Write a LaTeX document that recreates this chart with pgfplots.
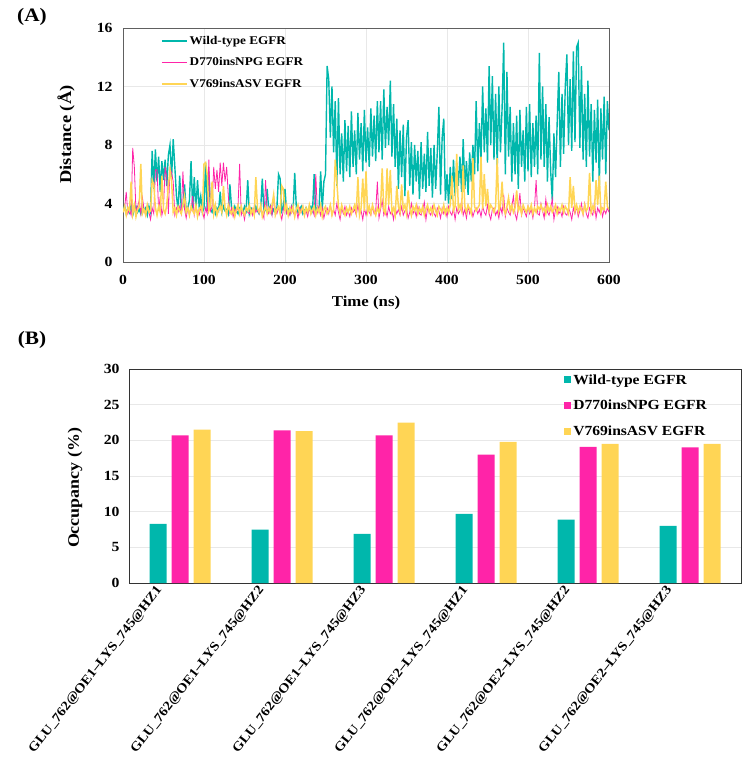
\documentclass[border=0pt]{standalone}
\usepackage{fontspec}
\setmainfont{Liberation Serif}[FakeStretch=1.12]
\usepackage{pgfplots}
\usepackage{pgfplotstable}
\pgfplotsset{compat=1.18}
\definecolor{cteal}{RGB}{0,183,172}
\definecolor{cpink}{RGB}{255,36,168}
\definecolor{cyel}{RGB}{255,213,85}
\newcommand{\fs}[1]{\fontsize{#1}{#1}\selectfont\bfseries}

% distance series, one value every 2 ns from 0 to 600 ns
\pgfplotstableread[row sep=\\]{y\\
3.5\\3.8\\3.3\\3.7\\3.4\\3.9\\3.2\\3.6\\3.8\\3.4\\
3.6\\3.3\\3.9\\3.5\\3.7\\3.2\\3.8\\3.4\\7.6\\5.0\\
7.7\\5.5\\7.2\\4.8\\6.9\\5.6\\7.0\\5.2\\7.3\\8.0\\
5.8\\8.4\\6.5\\4.5\\3.6\\5.9\\3.5\\3.8\\5.3\\3.4\\
3.7\\4.2\\6.9\\3.6\\5.8\\3.5\\5.6\\3.8\\4.5\\3.4\\
3.7\\6.8\\3.5\\6.2\\3.6\\3.4\\3.8\\3.3\\3.7\\3.5\\
4.8\\3.4\\3.8\\3.5\\3.6\\3.3\\5.3\\3.7\\3.4\\3.8\\
3.5\\3.3\\3.7\\3.6\\3.4\\3.8\\3.5\\5.6\\3.3\\3.7\\
3.6\\3.4\\3.8\\3.5\\3.3\\3.7\\5.7\\3.4\\3.6\\5.0\\
3.5\\3.8\\3.3\\3.6\\3.4\\3.7\\6.0\\5.7\\3.5\\3.8\\
5.0\\3.4\\3.6\\3.3\\3.8\\3.5\\6.1\\3.7\\3.4\\3.6\\
3.8\\3.3\\3.5\\3.7\\3.4\\3.6\\3.8\\3.5\\6.0\\3.4\\
3.7\\3.5\\6.2\\3.6\\5.5\\6.0\\13.4\\12.5\\8.5\\12.0\\
7.5\\11.0\\5.2\\11.2\\6.0\\8.8\\5.5\\9.7\\6.2\\9.3\\
5.8\\10.3\\6.5\\9.0\\6.0\\10.2\\7.0\\9.5\\6.2\\10.4\\
6.8\\9.2\\6.5\\10.5\\7.2\\10.0\\6.9\\11.0\\7.5\\11.0\\
7.0\\11.8\\7.8\\10.6\\8.0\\12.4\\7.2\\10.8\\6.5\\9.8\\
5.0\\9.0\\5.8\\9.4\\4.5\\8.5\\9.7\\5.2\\8.2\\4.6\\
8.0\\5.5\\7.6\\4.3\\8.2\\5.0\\7.4\\4.8\\8.9\\5.2\\
7.8\\4.4\\8.0\\5.0\\7.5\\10.6\\4.6\\8.5\\9.8\\4.2\\
6.0\\4.0\\6.5\\4.3\\7.0\\4.5\\6.8\\5.2\\7.2\\4.8\\
8.4\\5.0\\6.9\\4.6\\7.5\\5.5\\8.0\\6.0\\11.0\\6.2\\
9.5\\7.0\\12.0\\7.5\\10.5\\6.8\\13.4\\8.0\\12.7\\7.0\\
11.5\\6.5\\12.0\\7.5\\10.5\\15.0\\6.0\\13.0\\7.2\\10.6\\
5.5\\9.5\\6.0\\10.0\\5.0\\10.4\\6.5\\9.0\\5.5\\10.6\\
6.2\\10.8\\5.8\\9.5\\6.5\\10.0\\6.0\\14.3\\7.0\\12.0\\
6.5\\10.8\\5.5\\9.9\\6.2\\4.2\\8.8\\5.8\\9.5\\13.0\\
6.5\\11.5\\7.4\\12.0\\14.2\\8.0\\12.5\\7.6\\14.4\\8.2\\
14.7\\15.0\\7.8\\13.4\\7.0\\11.5\\6.5\\12.4\\7.2\\10.8\\
5.5\\10.4\\6.8\\11.1\\5.2\\10.5\\7.0\\11.3\\6.0\\11.0\\
9.0\\}\wtdata

\pgfplotstableread[row sep=\\]{y\\
3.4\\3.7\\4.8\\3.3\\3.6\\3.2\\7.8\\6.5\\3.5\\3.8\\
4.2\\3.3\\4.4\\3.6\\3.2\\3.9\\3.4\\2.9\\3.7\\3.3\\
6.3\\6.3\\3.5\\4.5\\3.2\\3.7\\6.5\\5.8\\3.3\\6.4\\
6.1\\5.5\\3.2\\3.7\\3.4\\3.8\\3.3\\6.2\\3.6\\3.0\\
3.7\\3.3\\3.5\\4.5\\3.2\\3.8\\3.4\\3.2\\3.7\\3.5\\
3.0\\3.7\\3.3\\7.0\\3.5\\3.8\\6.5\\5.0\\6.3\\4.8\\
6.8\\5.2\\6.8\\5.5\\6.5\\4.5\\3.3\\3.7\\3.1\\3.6\\
3.4\\3.8\\6.7\\3.2\\3.5\\2.9\\3.7\\3.4\\3.3\\3.6\\
3.2\\3.8\\3.4\\3.6\\3.3\\3.7\\3.4\\3.0\\5.6\\3.5\\
3.3\\3.8\\3.2\\4.5\\3.6\\3.3\\3.7\\3.4\\2.9\\3.6\\
4.0\\3.3\\3.5\\3.2\\3.8\\3.4\\3.2\\3.6\\3.0\\3.7\\
3.4\\3.8\\3.2\\3.5\\3.1\\3.7\\3.3\\3.6\\3.2\\6.0\\
3.4\\3.8\\3.2\\3.7\\3.0\\3.5\\3.7\\3.3\\3.9\\3.2\\
3.6\\3.2\\4.0\\3.4\\2.9\\3.7\\3.3\\3.8\\3.2\\3.5\\
3.1\\3.7\\3.4\\3.6\\3.2\\3.9\\3.3\\3.5\\2.9\\3.7\\
3.2\\3.7\\3.4\\3.2\\3.8\\3.3\\3.5\\5.5\\3.0\\3.6\\
4.2\\3.2\\3.6\\3.1\\3.8\\3.3\\3.5\\2.9\\3.7\\3.3\\
3.6\\3.2\\3.8\\3.2\\3.5\\3.7\\3.0\\3.4\\4.0\\3.3\\
3.6\\3.1\\3.8\\3.3\\3.2\\3.6\\4.1\\2.9\\3.7\\3.4\\
3.2\\3.8\\3.3\\3.1\\3.7\\3.5\\3.0\\3.7\\3.3\\3.6\\
3.1\\3.8\\3.4\\3.2\\3.7\\2.9\\3.7\\3.3\\3.5\\4.2\\
3.2\\3.6\\3.0\\3.8\\3.3\\3.7\\3.1\\3.5\\3.7\\3.3\\
3.6\\3.1\\3.8\\3.4\\3.2\\3.9\\3.3\\2.9\\3.6\\3.7\\
3.2\\3.5\\3.0\\3.8\\3.3\\4.6\\3.1\\3.7\\3.4\\3.2\\
3.8\\4.5\\3.3\\2.9\\3.7\\4.7\\3.2\\3.7\\3.4\\3.1\\
3.8\\3.3\\3.6\\3.0\\3.7\\5.6\\3.3\\3.2\\4.0\\3.5\\
3.0\\4.3\\3.4\\3.2\\3.7\\4.3\\2.9\\3.6\\3.8\\3.3\\
3.5\\3.1\\3.8\\3.3\\3.2\\3.7\\3.4\\2.9\\3.7\\3.3\\
3.8\\3.1\\3.5\\4.0\\3.2\\4.0\\3.3\\3.0\\3.7\\3.4\\
3.2\\4.1\\3.0\\3.7\\3.4\\3.8\\3.1\\3.6\\3.3\\3.7\\
3.4\\}\npgdata

\pgfplotstableread[row sep=\\]{y\\
3.4\\3.8\\3.2\\3.7\\3.5\\5.5\\3.3\\3.9\\3.1\\3.6\\
3.8\\6.7\\3.3\\3.6\\3.2\\3.9\\3.4\\3.5\\5.6\\5.3\\
3.7\\3.2\\3.8\\3.4\\5.9\\3.6\\3.3\\3.9\\5.2\\6.3\\
5.5\\3.4\\3.7\\3.2\\3.8\\3.5\\3.3\\3.9\\4.5\\3.4\\
3.7\\3.2\\3.8\\3.5\\3.3\\3.9\\3.1\\3.6\\3.8\\3.4\\
6.7\\6.8\\6.0\\3.5\\3.8\\5.5\\3.3\\3.9\\3.2\\3.6\\
3.8\\3.4\\5.2\\3.7\\3.2\\3.9\\3.5\\3.3\\3.7\\3.1\\
3.6\\3.9\\3.3\\3.8\\3.4\\3.2\\3.7\\3.5\\3.9\\3.3\\
3.6\\3.2\\5.8\\3.7\\3.4\\3.9\\3.1\\3.5\\3.8\\3.3\\
3.7\\3.4\\3.9\\4.6\\3.2\\3.6\\3.8\\3.3\\5.2\\5.0\\
3.5\\3.9\\3.2\\3.7\\3.4\\3.8\\3.1\\3.6\\3.9\\3.3\\
3.5\\3.8\\3.2\\3.7\\3.4\\3.9\\3.3\\3.6\\3.8\\3.2\\
3.7\\3.4\\3.9\\3.1\\3.6\\3.8\\3.3\\3.5\\3.9\\3.2\\
3.6\\7.0\\5.5\\3.8\\3.3\\3.9\\3.5\\3.2\\3.7\\3.4\\
3.8\\3.3\\3.6\\3.9\\3.4\\5.8\\3.2\\3.7\\5.7\\3.5\\
6.2\\3.4\\3.8\\3.3\\3.9\\3.5\\3.2\\3.7\\3.4\\3.8\\
6.4\\3.5\\3.3\\6.4\\3.9\\6.3\\3.4\\3.7\\3.2\\5.2\\
3.8\\3.4\\5.3\\3.6\\3.9\\3.3\\4.9\\3.7\\3.2\\3.8\\
3.5\\3.9\\3.3\\3.7\\3.4\\3.8\\3.2\\3.6\\3.9\\3.4\\
3.7\\3.3\\3.9\\3.5\\3.2\\3.8\\3.6\\3.4\\3.9\\3.3\\
3.7\\3.4\\3.9\\5.9\\3.5\\3.8\\7.4\\3.6\\3.9\\3.5\\
6.6\\3.8\\3.4\\3.9\\3.6\\3.3\\7.1\\3.8\\3.5\\3.7\\
3.9\\7.2\\3.6\\6.0\\3.8\\5.0\\3.5\\3.9\\3.7\\3.4\\
3.8\\7.1\\3.5\\3.9\\5.5\\3.6\\3.3\\3.8\\4.4\\3.5\\
3.9\\3.4\\3.7\\4.9\\3.5\\3.8\\3.3\\3.9\\3.6\\3.4\\
3.8\\3.5\\3.9\\3.3\\3.7\\3.4\\3.8\\3.6\\3.9\\3.5\\
3.7\\3.3\\3.9\\3.5\\3.8\\3.4\\3.6\\3.9\\3.3\\3.7\\
3.5\\3.9\\3.4\\3.8\\3.6\\3.3\\5.8\\3.7\\5.2\\3.5\\
3.9\\3.4\\3.8\\3.6\\3.3\\3.9\\3.5\\3.7\\6.1\\3.4\\
3.8\\3.5\\5.6\\3.9\\5.9\\3.4\\3.7\\3.6\\5.5\\3.8\\
3.6\\}\asvdata

\begin{document}
\begin{tikzpicture}
\path[use as bounding box] (0pt,0pt) rectangle (752pt,-767pt);
\node[font=\fs{19}] at (32pt,-17pt) {(A)};
\node[font=\fs{19}] at (32pt,-340pt) {(B)};

% ---------- panel A ----------
\begin{axis}[
  at={(123pt,-262pt)}, anchor=south west,
  width=486pt, height=234pt, scale only axis,
  xmin=0, xmax=600, ymin=0, ymax=16,
  xtick={0,100,...,600}, ytick={0,4,...,16},
  grid=major, grid style={gray!18, line width=0.8pt},
  major tick length=0pt,
  axis line style={gray!75!black, line width=0.9pt},
  /pgf/number format/assume math mode=true,
  tick label style={font=\fs{14}},
  yticklabel shift=7pt, xticklabel shift=10pt,
  xlabel={Time (ns)}, ylabel={Distance (Å)},
  xlabel style={font=\fs{15}, at={(axis description cs:0.5,-0.175)}, anchor=center},
  ylabel style={font=\fs{16.5}, at={(axis description cs:-0.117,0.545)}, anchor=center},
  legend style={at={(0.078,0.975)}, anchor=north west, draw=none, fill=none,
    font=\fs{11.8}, row sep=8pt, inner sep=0pt, nodes={inner sep=2pt}},
  legend cell align=left,
  legend image code/.code={\draw[#1, line width=1.6pt] (0pt,0pt) -- (25pt,0pt);},
]
\addplot[cteal, line width=1.4pt] table[x expr=\coordindex*2, y index=0] {\wtdata};
\addlegendentry{Wild-type EGFR}
\addplot[cpink, line width=0.8pt] table[x expr=\coordindex*2, y index=0] {\npgdata};
\addlegendentry{D770insNPG EGFR}
\addplot[cyel, line width=1.5pt] table[x expr=\coordindex*2, y index=0] {\asvdata};
\addlegendentry{V769insASV EGFR}
\end{axis}

% ---------- panel B ----------
\begin{axis}[
  at={(129pt,-583pt)}, anchor=south west,
  width=612pt, height=214pt, scale only axis,
  xmin=-0.5, xmax=5.5, ymin=0, ymax=30,
  xtick={0,1,2,3,4,5}, ytick={0,5,...,30},
  xticklabels={GLU\_762@OE1--LYS\_745@HZ1, GLU\_762@OE1--LYS\_745@HZ2, GLU\_762@OE1--LYS\_745@HZ3,
               GLU\_762@OE2--LYS\_745@HZ1, GLU\_762@OE2--LYS\_745@HZ2, GLU\_762@OE2--LYS\_745@HZ3},
  ymajorgrids, grid style={gray!18, line width=0.8pt},
  major tick length=0pt,
  axis line style={black!80, line width=0.9pt},
  /pgf/number format/assume math mode=true,
  yticklabel style={font=\fs{14}}, yticklabel shift=6pt,
  xticklabel style={font=\fs{13}, xshift=-25pt, rotate=52, anchor=north east, inner sep=1pt},
  ylabel={Occupancy (\%)},
  ylabel style={font=\fs{16}, at={(axis description cs:-0.088,0.444)}, anchor=center},
  legend style={at={(0.711,0.985)}, anchor=north west, draw=none, fill=none,
    font=\fs{13.9}, row sep=10.5pt, inner sep=0pt, nodes={inner sep=2pt}},
  legend cell align=left,
  legend image code/.code={\fill[#1] (0pt,-3.5pt) rectangle (7pt,3.5pt);},
]
\addplot[ybar, bar width=17pt, bar shift=-22pt, fill=cteal, draw=none] coordinates {(0,8.3) (1,7.5) (2,6.9) (3,9.7) (4,8.9) (5,8.0)};
\addlegendentry{Wild-type EGFR}
\addplot[ybar, bar width=17pt, bar shift=0pt, fill=cpink, draw=none] coordinates {(0,20.7) (1,21.4) (2,20.7) (3,18.0) (4,19.1) (5,19.0)};
\addlegendentry{D770insNPG EGFR}
\addplot[ybar, bar width=17pt, bar shift=22pt, fill=cyel, draw=none] coordinates {(0,21.5) (1,21.3) (2,22.5) (3,19.8) (4,19.5) (5,19.5)};
\addlegendentry{V769insASV EGFR}
\end{axis}
\end{tikzpicture}
\end{document}
